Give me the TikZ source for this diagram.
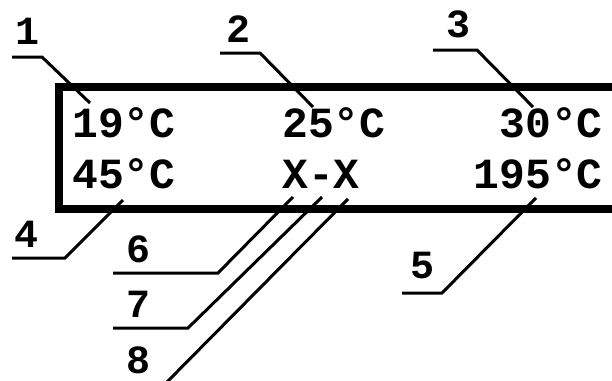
\documentclass[tikz,border=0pt]{standalone}
\usepackage{fontspec}
\setmonofont{Liberation Mono}
\usetikzlibrary{positioning}

\begin{document}
\begin{tikzpicture}[
    x=1pt, y=-1pt,
    frame/.style={draw=black, line width=8pt},
    temp/.style={font=\fontsize{43}{43}\selectfont\ttfamily\bfseries, inner sep=0pt},
    num/.style={font=\fontsize{40}{40}\selectfont\ttfamily\bfseries, inner sep=0pt, anchor=base},
    leader/.style={draw=black, line width=3pt}
]
    \useasboundingbox (0,0) rectangle (612,380);
    \clip (0,0) rectangle (612,380);

    % Display frame
    \draw[frame] (59,87) rectangle (660,209);

    % Top row
    \node[temp, anchor=base west] (t19) at (72,137) {19°C};
    \node[temp, anchor=base west] (t25) at (282,137) {25°C};
    \node[temp, anchor=base east] (t30) at (603,137) {30°C};

    % Bottom row
    \node[temp, anchor=base west] (t45) at (72,188) {45°C};
    \node[temp, anchor=base west] (txx) at (282,188) {X-X};
    \node[temp, anchor=base east] (t195) at (603,188) {195°C};

    % Reference numbers
    \node[num] (n1) at (28,44) {1};
    \node[num] (n2) at (238,42) {2};
    \node[num] (n3) at (458,37) {3};
    \node[num] (n4) at (27,247) {4};
    \node[num] (n5) at (422,278) {5};
    \node[num] (n6) at (138,262) {6};
    \node[num] (n7) at (138,317) {7};
    \node[num] (n8) at (138,373) {8};

    % Leader points
    \coordinate (a1) at (12,57);   \coordinate (k1) at (42,57);   \coordinate (p1) at (90,103);
    \coordinate (a2) at (220,53);  \coordinate (k2) at (260,53);  \coordinate (p2) at (313,107);
    \coordinate (a3) at (433,50);  \coordinate (k3) at (477,50);  \coordinate (p3) at (533,107);
    \coordinate (a4) at (12,258);  \coordinate (k4) at (65,258);  \coordinate (p4) at (123,200);
    \coordinate (a5) at (402,293); \coordinate (k5) at (442,293); \coordinate (p5) at (536,198);
    \coordinate (a6) at (113,273); \coordinate (k6) at (218,273); \coordinate (p6) at (293,197);
    \coordinate (a7) at (113,328); \coordinate (k7) at (188,328); \coordinate (p7) at (322,197);
    \coordinate (k8) at (165,384); \coordinate (p8) at (348,199);

    % Leaders
    \foreach \i in {1,...,7}
        \draw[leader] (a\i) -- (k\i) -- (p\i);
    \draw[leader] (k8) -- (p8);
\end{tikzpicture}
\end{document}
